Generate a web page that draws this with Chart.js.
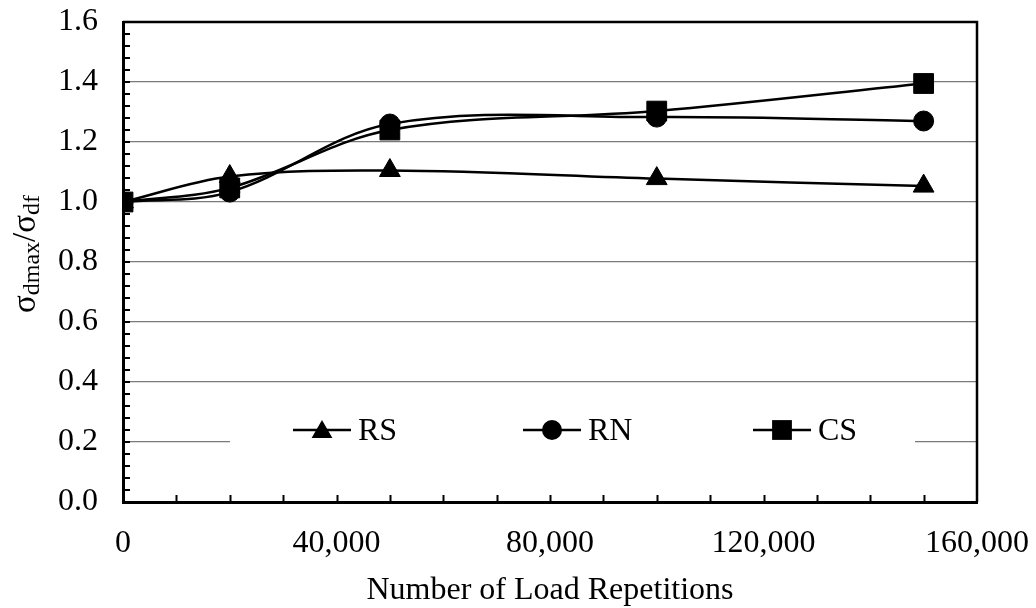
<!DOCTYPE html>
<html>
<head>
<meta charset="utf-8">
<script src="https://cdn.jsdelivr.net/npm/chart.js@4.4.1/dist/chart.umd.min.js"></script>
<style>
  html, body { margin: 0; padding: 0; background: #ffffff; }
  canvas { display: block; }
</style>
</head>
<body>
<canvas id="chart" width="1036" height="608"></canvas>
<script>
// Stress ratio against number of load repetitions
const repetitions = [0, 20000, 50000, 100000, 150000];
const rsRatio = [1.000, 1.085, 1.105, 1.078, 1.053];
const rnRatio = [1.000, 1.033, 1.260, 1.283, 1.270];
const csRatio = [1.000, 1.047, 1.240, 1.303, 1.395];
const seriesLabels = ['RS', 'RN', 'CS'];
const xTickValues = [0, 40000, 80000, 120000, 160000];
const yTickValues = [0, 0.2, 0.4, 0.6, 0.8, 1.0, 1.2, 1.4, 1.6];
const xMinorStep = 10000;
const yMinorStep = 0.04;

const SERIF = "'Liberation Serif', 'Times New Roman', serif";
const INK = '#000000';

function toPoints(values) {
  return repetitions.map((x, i) => ({ x: x, y: values[i] }));
}

function seriesStyle(label, values, marker, radius, order) {
  return {
    label: label,
    data: toPoints(values),
    borderColor: INK,
    borderWidth: 2.5,
    backgroundColor: INK,
    pointStyle: marker,
    pointRadius: radius,
    pointHoverRadius: radius,
    pointBackgroundColor: INK,
    pointBorderColor: INK,
    pointBorderWidth: 1,
    tension: 0.35,
    fill: false,
    order: order
  };
}

// Marker drawing with the same geometry Chart.js uses for its point styles
function drawMarker(ctx, style, x, y, r) {
  ctx.beginPath();
  if (style === 'triangle') {
    ctx.moveTo(x, y - r);
    ctx.lineTo(x + Math.sin(Math.PI * 2 / 3) * r, y + 0.5 * r);
    ctx.lineTo(x - Math.sin(Math.PI * 2 / 3) * r, y + 0.5 * r);
    ctx.closePath();
  } else if (style === 'rect') {
    const s = Math.SQRT1_2 * r;
    ctx.rect(x - s, y - s, 2 * s, 2 * s);
  } else {
    ctx.arc(x, y, r, 0, Math.PI * 2);
  }
  ctx.fill();
}

// Plot frame, inward tick marks and the in-plot legend
const framePlugin = {
  id: 'frame',
  beforeDatasetsDraw(chart) {
    const { ctx, chartArea: a, scales: { x, y } } = chart;
    ctx.save();
    // top and right edges of the plot frame
    ctx.strokeStyle = INK;
    ctx.lineWidth = 2.5;
    ctx.beginPath();
    ctx.moveTo(a.left, a.top);
    ctx.lineTo(a.right, a.top);
    ctx.lineTo(a.right, a.bottom);
    ctx.stroke();

    // inward tick marks
    ctx.lineWidth = 2;
    ctx.beginPath();
    for (let v = xMinorStep; v < x.max; v += xMinorStep) {
      const px = Math.round(x.getPixelForValue(v)) + 0.5;
      ctx.moveTo(px, a.bottom);
      ctx.lineTo(px, a.bottom - 7);
    }
    for (let k = 1; k * yMinorStep < y.max - 1e-9; k++) {
      const py = Math.round(y.getPixelForValue(k * yMinorStep));
      ctx.moveTo(a.left, py);
      ctx.lineTo(a.left + 7, py);
    }
    ctx.stroke();

    // legend panel
    const ly = a.top + 408;
    ctx.fillStyle = '#ffffff';
    ctx.fillRect(a.left + 107, ly - 22, a.right - a.left - 169, 44);
    ctx.font = '32px ' + SERIF;
    ctx.textBaseline = 'middle';
    ctx.textAlign = 'left';
    chart.data.datasets.forEach((ds, i) => {
      const x0 = a.left + 170 + i * 230;
      ctx.strokeStyle = INK;
      ctx.lineWidth = 2.5;
      ctx.beginPath();
      ctx.moveTo(x0, ly);
      ctx.lineTo(x0 + 58, ly);
      ctx.stroke();
      ctx.fillStyle = INK;
      drawMarker(ctx, ds.pointStyle, x0 + 29, ly + (ds.pointStyle === 'triangle' ? 2 : 0), ds.pointRadius);
      ctx.fillText(ds.label, x0 + 65, ly + 2);
    });
    ctx.restore();
  },
  afterDraw(chart) {
    // rotated y-axis title with subscripts
    const { ctx, chartArea: a } = chart;
    const parts = [['σ', false], ['dmax', true], ['/', false], ['σ', false], ['df', true]];
    const mainFont = '33px ' + SERIF;
    const subFont = '24px ' + SERIF;
    ctx.save();
    let total = 0;
    const widths = parts.map(([t, sub]) => {
      ctx.font = sub ? subFont : mainFont;
      const w = ctx.measureText(t).width;
      total += w;
      return w;
    });
    ctx.translate(35, (a.top + a.bottom) / 2 - 8);
    ctx.rotate(-Math.PI / 2);
    ctx.fillStyle = INK;
    ctx.textBaseline = 'alphabetic';
    ctx.textAlign = 'left';
    let cx = -total / 2;
    parts.forEach(([t, sub], i) => {
      ctx.font = sub ? subFont : mainFont;
      ctx.fillText(t, cx, sub ? 4 : 0);
      cx += widths[i];
    });
    ctx.restore();
  }
};

new Chart(document.getElementById('chart'), {
  type: 'line',
  data: {
    datasets: [
      seriesStyle(seriesLabels[0], rsRatio, 'triangle', 12, 2),
      seriesStyle(seriesLabels[1], rnRatio, 'circle', 10, 1),
      seriesStyle(seriesLabels[2], csRatio, 'rect', 14, 0)
    ]
  },
  options: {
    responsive: false,
    animation: false,
    events: [],
    devicePixelRatio: 1,
    layout: { autoPadding: false, padding: { top: 22, right: 59, left: 0, bottom: 0 } },
    plugins: {
      legend: { display: false },
      tooltip: { enabled: false }
    },
    scales: {
      x: {
        type: 'linear',
        min: 0,
        max: 160000,
        afterBuildTicks: (scale) => { scale.ticks = xTickValues.map(v => ({ value: v })); },
        afterFit: (scale) => {
          scale.height = 106;
          scale.paddingLeft = 0;
          scale.paddingRight = 0;
        },
        ticks: {
          color: INK,
          font: { family: SERIF, size: 32 },
          padding: 22,
          maxRotation: 0,
          callback: (v) => Number(v).toLocaleString('en-US')
        },
        grid: { display: false, drawTicks: false },
        border: { display: true, color: INK, width: 3 },
        title: {
          display: true,
          text: 'Number of Load Repetitions',
          color: INK,
          font: { family: SERIF, size: 32, lineHeight: 1.1 },
          padding: { top: 0, bottom: 0 }
        }
      },
      y: {
        min: 0,
        max: 1.6,
        afterBuildTicks: (scale) => { scale.ticks = yTickValues.map(v => ({ value: v })); },
        afterFit: (scale) => {
          scale.width = 123;
          scale.paddingTop = 0;
          scale.paddingBottom = 0;
        },
        ticks: {
          color: INK,
          font: { family: SERIF, size: 32 },
          padding: 25,
          callback: (v) => Number(v).toFixed(1)
        },
        grid: {
          drawTicks: false,
          lineWidth: 1.2,
          color: (c) => (c.tick && (c.tick.value <= 0 || c.tick.value >= 1.6)) ? 'rgba(0,0,0,0)' : '#7a7a7a'
        },
        border: { display: true, color: INK, width: 3 }
      }
    }
  },
  plugins: [framePlugin]
});
</script>
</body>
</html>
